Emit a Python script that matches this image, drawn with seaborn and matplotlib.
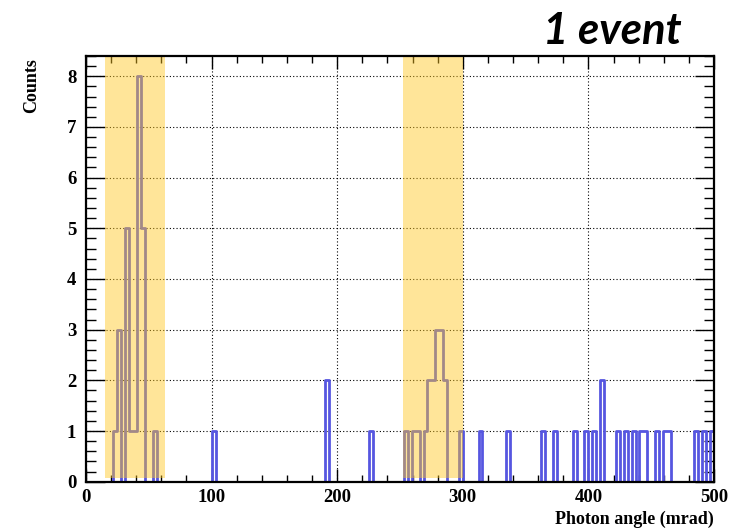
import numpy as np
import pandas as pd
import matplotlib
matplotlib.use("Agg")
import matplotlib.pyplot as plt
import seaborn as sns
from matplotlib.ticker import MultipleLocator

# ---- data (photon angle bin centres in mrad, counts) ----
photon_angle_mrad = [23.4, 26.6, 32.8, 35.9, 39.1, 42.2, 45.3, 54.7,
                     101.6, 192.2, 226.6,
                     254.7, 260.9, 264.1, 270.3, 273.4, 276.6, 279.7, 282.8, 285.9, 298.4,
                     314.1, 335.9, 364.1, 373.4, 389.1, 398.4, 404.7, 410.9,
                     423.4, 429.7, 435.9, 442.2, 445.3, 454.7, 460.9, 464.1,
                     485.9, 492.2, 498.4]
photon_counts = [1, 3, 5, 1, 1, 8, 5, 1,
                 1, 2, 1,
                 1, 1, 1, 1, 2, 2, 3, 3, 2, 1,
                 1, 1, 1, 1, 1, 1, 1, 2,
                 1, 1, 1, 1, 1, 1, 1, 1,
                 1, 1, 1]
n_bins = 160
x_range = (0, 500)
y_max = 8.4
band_ranges = [(15, 63), (252, 300)]
x_ticks = [0, 100, 200, 300, 400, 500]
y_ticks = [0, 1, 2, 3, 4, 5, 6, 7, 8]
title_text = "1 event"
x_label = "Photon angle (mrad)"
y_label = "Counts"

df = pd.DataFrame({"angle": photon_angle_mrad, "count": photon_counts})

sns.set_style("white")
plt.rcParams["font.family"] = ["Liberation Serif", "DejaVu Serif"]
plt.rcParams["text.color"] = "black"
plt.rcParams["xtick.color"] = "black"
plt.rcParams["ytick.color"] = "black"

W, H = 733, 529
fig = plt.figure(figsize=(W / 100, H / 100), dpi=100)
ax = fig.add_axes([86 / W, 1 - 481.7 / H, (714 - 86) / W, (481.7 - 56) / H])

ax.grid(True, which="major", color="black", linestyle=(0, (1, 2)), linewidth=0.8, zorder=0)

sns.histplot(data=df, x="angle", weights="count", bins=n_bins, binrange=x_range,
             element="step", fill=False, color="#5656e0", linewidth=2.0, ax=ax, zorder=3)

for lo, hi in band_ranges:
    ax.axvspan(lo, hi, ymin=0.009, ymax=1.0, color="#FFC61D", alpha=0.45, lw=0, zorder=5)

ax.set_xlim(*x_range)
ax.set_ylim(0, y_max)
ax.set_xticks(x_ticks)
ax.set_yticks(y_ticks)
ax.xaxis.set_minor_locator(MultipleLocator(20))
ax.yaxis.set_minor_locator(MultipleLocator(0.2))
ax.set_xticklabels([str(t) for t in x_ticks], fontsize=13.5, fontweight="bold", color="black")
ax.set_yticklabels([str(t) for t in y_ticks], fontsize=13.5, fontweight="bold", color="black")
ax.tick_params(axis="x", which="major", direction="in", length=9.5, width=1.0,
               top=True, bottom=True, pad=5, colors="black")
ax.tick_params(axis="x", which="minor", direction="in", length=5, width=1.0,
               top=True, bottom=True, colors="black")
ax.tick_params(axis="y", which="major", direction="in", length=13.5, width=1.0,
               left=True, right=True, pad=7, colors="black")
ax.tick_params(axis="y", which="minor", direction="in", length=7, width=1.0,
               left=True, right=True, colors="black")
for s in ax.spines.values():
    s.set_color("black")
    s.set_linewidth(1.6)
    s.set_zorder(6)
ax.set_xlabel("")
ax.set_ylabel("")

fig.text(714 / W, 1 - 519 / H, x_label, ha="right", va="center", color="black",
         fontsize=13, fontweight="bold", family=["Liberation Serif", "DejaVu Serif"])
fig.text(32 / W, 1 - 58 / H, y_label, ha="center", va="top", rotation=90, color="black",
         fontsize=13, fontweight="bold", family=["Liberation Serif", "DejaVu Serif"])
fig.text(682 / W, 1 - 44 / H, title_text, ha="right", va="baseline", color="black",
         fontsize=31.5, fontweight="bold", fontstyle="italic",
         family=["Lato", "DejaVu Sans"])

fig.savefig("out.png", dpi=100)
